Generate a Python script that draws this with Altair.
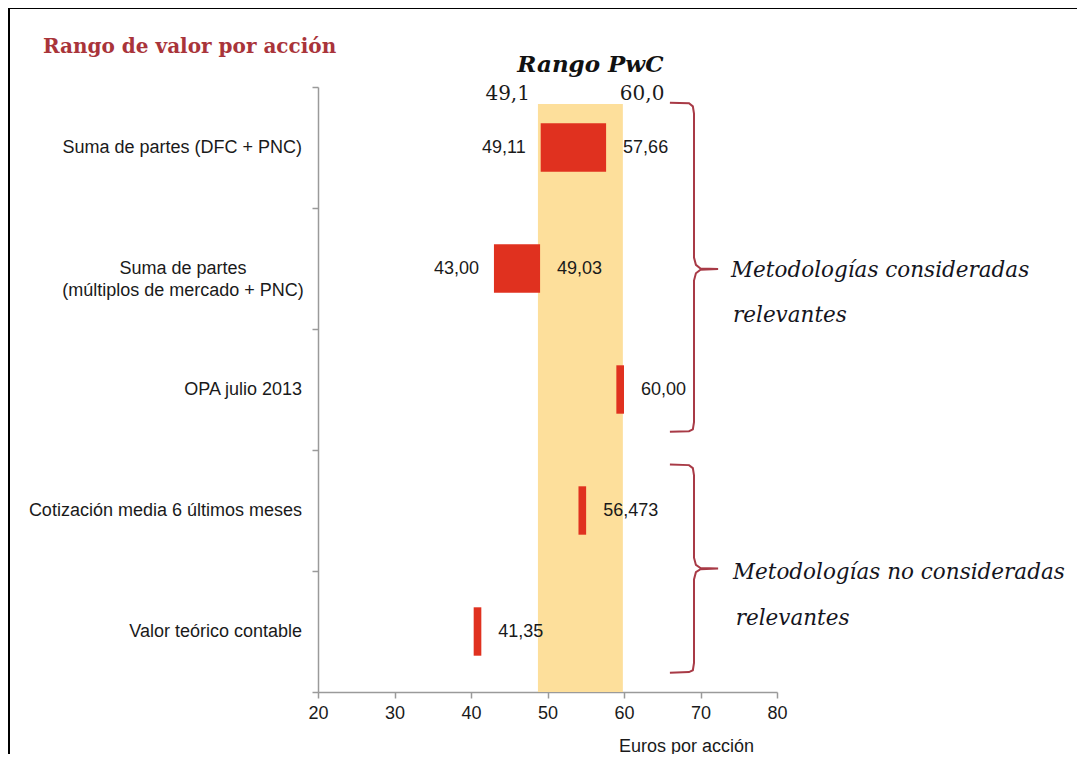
import altair as alt
import pandas as pd

# ---------------- data ----------------
categories = [
    "Suma de partes (DFC + PNC)",
    "Suma de partes\n(múltiplos de mercado + PNC)",
    "OPA julio 2013",
    "Cotización media 6 últimos meses",
    "Valor teórico contable",
]
bar_low = [49.11, 43.00, 59.00, 54.05, 40.35]
bar_high = [57.66, 49.03, 60.00, 55.05, 41.35]
left_labels = ["49,11", "43,00", "", "", ""]
right_labels = ["57,66", "49,03", "60,00", "56,473", "41,35"]
multiline = [False, True, False, False, False]

pwc_low = [48.75]
pwc_high = [59.85]
pwc_low_label = ["49,1"]
pwc_high_label = ["60,0"]
pwc_title = ["Rango PwC"]
pwc_top = [0.14]
pwc_bottom = [5.0]
pwc_label_row = [0.06]
pwc_title_row = [-0.18]

x_ticks = [20, 30, 40, 50, 60, 70, 80]

brace_group = ["a"] * 15 + ["b"] * 15
brace_x = [66.0, 68.5, 69.0, 69.15, 69.15, 69.4, 70.0, 72.3, 70.0, 69.4, 69.15, 69.15, 69.0, 68.5, 66.0,
           66.0, 68.5, 69.0, 69.15, 69.15, 69.4, 70.0, 72.3, 70.0, 69.4, 69.15, 69.15, 69.0, 68.5, 66.0]
brace_y = [0.13, 0.135, 0.16, 0.22, 1.41, 1.47, 1.50, 1.505, 1.51, 1.54, 1.60, 2.77, 2.83, 2.845, 2.85,
           3.12, 3.125, 3.15, 3.21, 3.89, 3.95, 3.975, 3.98, 3.985, 4.01, 4.07, 4.76, 4.82, 4.835, 4.84]
brace_order = list(range(15)) + list(range(15))

annot_text = ["Metodologías consideradas", "relevantes", "Metodologías no consideradas", "relevantes"]
annot_x = [74.0, 74.25, 74.25, 74.6]
annot_y = [1.52, 1.89, 4.02, 4.40]

# ---------------- tables ----------------
bars_df = pd.DataFrame({
    "cat": categories, "low": bar_low, "high": bar_high,
    "left": left_labels, "right": right_labels, "multi": multiline,
})
pwc_df = pd.DataFrame({
    "lo": pwc_low, "hi": pwc_high, "lo_lab": pwc_low_label, "hi_lab": pwc_high_label,
    "title": pwc_title, "top": pwc_top, "bottom": pwc_bottom,
    "lab_row": pwc_label_row, "title_row": pwc_title_row,
})
brace_df = pd.DataFrame({"g": brace_group, "x": brace_x, "y": brace_y, "o": brace_order})
annot_df = pd.DataFrame({"t": annot_text, "x": annot_x, "y": annot_y})

SANS = "Liberation Sans"
SERIF = "DejaVu Serif"
TXT = "#1a1a1a"
RED = "#E0311F"
BAND = "#FDDF9B"
BRACE = "#A83A46"
AXIS_GREY = "#9a9a9a"
FS = 18

xscale = alt.Scale(domain=[20, 80], nice=False, zero=False)
xaxis = alt.Axis(
    values=x_ticks, title="Euros por acción", grid=False, tickSize=6,
    domainColor=AXIS_GREY, tickColor=AXIS_GREY, domainWidth=1.5, tickWidth=1.5,
    labelFont=SANS, labelFontSize=FS, labelColor=TXT, labelPadding=6, labelFlush=False,
    titleFont=SANS, titleFontSize=FS, titleFontWeight="normal", titleColor=TXT,
    titleX=368, titleY=59, titleAlign="center", titleBaseline="alphabetic",
)
yband_scale = alt.Scale(domain=categories, paddingInner=0, paddingOuter=0)
yq_scale = alt.Scale(domain=[0, 5], reverse=True, nice=False, zero=False)


def X(field):
    return alt.X(field, type="quantitative", scale=xscale, axis=xaxis)


# yellow PwC band
band = alt.Chart(pwc_df).mark_rect(color=BAND).encode(
    x=X("lo"), x2="hi",
    y=alt.Y("top:Q", scale=yq_scale, axis=None), y2="bottom:Q",
)

bars = alt.Chart(bars_df).mark_bar(color=RED, height={"band": 0.4}).encode(
    x=X("low"), x2="high",
    y=alt.Y("cat:N", scale=yband_scale, sort=categories, axis=alt.Axis(
        labels=False, title=None, tickBand="extent", tickSize=6, grid=False,
        domainColor=AXIS_GREY, tickColor=AXIS_GREY, domainWidth=1.5, tickWidth=1.5,
    )),
)

left_txt = alt.Chart(bars_df).mark_text(
    align="right", baseline="middle", dx=-15, font=SANS, fontSize=FS, color=TXT
).encode(
    x=X("low"),
    y=alt.Y("cat:N", scale=yband_scale, sort=categories, axis=None),
    text="left:N",
)
right_txt = alt.Chart(bars_df).mark_text(
    align="left", baseline="middle", dx=17, font=SANS, fontSize=FS, color=TXT
).encode(
    x=X("high"),
    y=alt.Y("cat:N", scale=yband_scale, sort=categories, axis=None),
    text="right:N",
)

cat_single = alt.Chart(bars_df).transform_filter("!datum.multi").mark_text(
    align="right", baseline="middle", dx=-16, font=SANS, fontSize=FS, color=TXT
).encode(
    x=alt.datum(20, type="quantitative", scale=xscale, axis=xaxis),
    y=alt.Y("cat:N", scale=yband_scale, sort=categories, axis=None),
    text="cat:N",
)
cat_multi = alt.Chart(bars_df).transform_filter("datum.multi").mark_text(
    align="center", baseline="middle", dx=-135, font=SANS, fontSize=FS, color=TXT,
    lineBreak="\n", lineHeight=22,
).encode(
    x=alt.datum(20, type="quantitative", scale=xscale, axis=xaxis),
    y=alt.Y("cat:N", scale=yband_scale, sort=categories, axis=None),
    text="cat:N",
)

pwc_lo_txt = alt.Chart(pwc_df).mark_text(
    align="right", baseline="middle", dx=-8, font=SERIF, fontSize=20, color=TXT
).encode(
    x=X("lo"), y=alt.Y("lab_row:Q", scale=yq_scale, axis=None), text="lo_lab:N",
)
pwc_hi_txt = alt.Chart(pwc_df).mark_text(
    align="left", baseline="middle", dx=-3, font=SERIF, fontSize=20, color=TXT
).encode(
    x=X("hi"), y=alt.Y("lab_row:Q", scale=yq_scale, axis=None), text="hi_lab:N",
)
pwc_title_txt = alt.Chart(pwc_df).transform_calculate(
    mid="(datum.lo + datum.hi) / 2"
).mark_text(
    align="center", baseline="middle", dx=10, font=SERIF, fontSize=23,
    fontStyle="italic", fontWeight="bold", color="#111111"
).encode(
    x=X("mid"), y=alt.Y("title_row:Q", scale=yq_scale, axis=None), text="title:N",
)

braces = alt.Chart(brace_df).mark_line(color=BRACE, strokeWidth=2, interpolate="linear").encode(
    x=X("x"),
    y=alt.Y("y:Q", scale=yq_scale, axis=None),
    detail="g:N",
    order="o:Q",
)

annots = alt.Chart(annot_df).mark_text(
    align="left", baseline="middle", font=SERIF, fontSize=21.5, fontStyle="italic", color="#141420"
).encode(
    x=X("x"), y=alt.Y("y:Q", scale=yq_scale, axis=None), text="t:N",
)

frame_left = alt.Chart(pwc_df).mark_rule(color="#000000", strokeWidth=2).encode(
    x=alt.value(-309), y=alt.value(-80), y2=alt.value(720)
)
frame_top = alt.Chart(pwc_df).mark_rule(color="#000000", strokeWidth=2).encode(
    x=alt.value(-310), x2=alt.value(790), y=alt.value(-79)
)

chart = alt.layer(
    band, bars, left_txt, right_txt, cat_single, cat_multi,
    pwc_lo_txt, pwc_hi_txt, pwc_title_txt, braces, annots, frame_left, frame_top,
).resolve_scale(
    y="independent"
).properties(
    width=459, height=605,
    padding={"left": 310, "top": 79, "right": 300, "bottom": 62},
    autosize="none",
    title=alt.TitleParams(
        "Rango de valor por acción", anchor="start", frame="group", dx=-275, dy=55,
        font=SERIF, fontWeight="bold", fontSize=20, color="#A9343A",
    ),
).configure_view(stroke=None)

chart.save("out.html", embed_options={"renderer": "svg", "actions": False})
